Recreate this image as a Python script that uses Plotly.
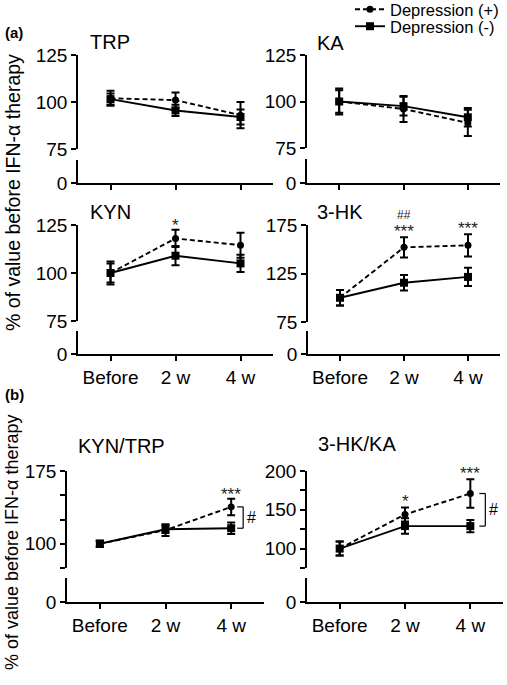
import plotly.graph_objects as go

# time points on every x axis
timepoints = ["Before", "2 w", "4 w"]

# panel (a) - means and error bars, depression (+) / depression (-)
trp_pos = [102, 101, 93]
trp_pos_err = [4, 4, 7]
trp_neg = [101.5, 95.5, 92]
trp_neg_err = [3, 3, 4]

ka_pos = [100, 96, 88.5]
ka_pos_err = [7, 7, 7]
ka_neg = [100, 97.5, 91.5]
ka_neg_err = [6, 5, 5]

kyn_pos = [100, 118, 114.5]
kyn_pos_err = [6, 4.5, 6.5]
kyn_neg = [100, 109, 105]
kyn_neg_err = [5, 5, 4.5]

hk_pos = [100, 152, 154]
hk_pos_err = [8, 10.5, 11.5]
hk_neg = [100, 115.5, 121.5]
hk_neg_err = [8, 8, 9.5]

# panel (b) - ratios
kyntrp_pos = [100, 114, 138]
kyntrp_pos_err = [3, 6, 8.5]
kyntrp_neg = [100, 115, 116]
kyntrp_neg_err = [3, 4, 6]

hkka_pos = [100, 144, 171]
hkka_pos_err = [9, 9, 18.5]
hkka_neg = [100, 129, 129]
hkka_neg_err = [9, 10, 8]

# significance marks above depression (+)
kyn_stars = ["", "*", ""]
hk_stars = ["", "***", "***"]
hk_hash = ["", "##", ""]
kyntrp_stars = ["", "", "***"]
hkka_stars = ["", "*", "***"]

W, H = 507, 685
FONT = "Liberation Sans, Arial, sans-serif"


def px_x(a, b):
    return [a / W, b / W]


def px_y(top, bottom):
    return [1 - bottom / H, 1 - top / H]


# name, data, layout geometry (pixels), y range, ticks
panels = [
    dict(title="TRP", pos=trp_pos, pos_err=trp_pos_err, neg=trp_neg, neg_err=trp_neg_err,
         x=(78, 273), up=(55, 149), low=(160, 183), yr=[75, 125],
         tv=[75, 100, 125], tt=["75", "100", "125"], xlab=False, tpos=(88, 42)),
    dict(title="KA", pos=ka_pos, pos_err=ka_pos_err, neg=ka_neg, neg_err=ka_neg_err,
         x=(307, 500), up=(55, 148), low=(159, 183), yr=[75, 125],
         tv=[75, 100, 125], tt=["75", "100", "125"], xlab=False, tpos=(315, 43)),
    dict(title="KYN", pos=kyn_pos, pos_err=kyn_pos_err, neg=kyn_neg, neg_err=kyn_neg_err,
         x=(78, 273), up=(225, 321), low=(331, 354), yr=[75, 125],
         tv=[75, 100, 125], tt=["75", "100", "125"], xlab=True, tpos=(88, 212)),
    dict(title="3-HK", pos=hk_pos, pos_err=hk_pos_err, neg=hk_neg, neg_err=hk_neg_err,
         x=(308, 500), up=(225, 322), low=(331, 354), yr=[75, 175],
         tv=[75, 125, 175], tt=["75", "125", "175"], xlab=True, tpos=(315, 212)),
    dict(title="KYN/TRP", pos=kyntrp_pos, pos_err=kyntrp_pos_err, neg=kyntrp_neg, neg_err=kyntrp_neg_err,
         x=(67, 264), up=(471, 568), low=(578, 602), yr=[75, 175],
         tv=[75, 100, 125, 150, 175], tt=["", "100", "", "", "175"], xlab=True, tpos=(76, 446)),
    dict(title="3-HK/KA", pos=hkka_pos, pos_err=hkka_pos_err, neg=hkka_neg, neg_err=hkka_neg_err,
         x=(307, 503), up=(471, 568), low=(578, 602), yr=[75, 200],
         tv=[75, 100, 125, 150, 175, 200], tt=["", "100", "", "150", "", "200"], xlab=True, tpos=(316, 444)),
]

fig = go.Figure()
layout = {}
annotations = []
shapes = []

axis_style = dict(showline=True, linecolor="black", linewidth=1.5, ticks="outside",
                  ticklen=5, tickwidth=1.5, tickcolor="black", showgrid=False,
                  zeroline=False, tickfont=dict(size=19, color="black", family=FONT))

for i, p in enumerate(panels):
    xn = i + 1
    ylow = 2 * i + 1
    yup = 2 * i + 2
    xref = "x" if xn == 1 else "x%d" % xn
    ylowref = "y" if ylow == 1 else "y%d" % ylow
    yupref = "y%d" % yup

    layout["xaxis" if xn == 1 else "xaxis%d" % xn] = dict(
        axis_style, domain=px_x(*p["x"]), anchor=ylowref, type="category",
        categoryorder="array", categoryarray=timepoints, range=[-0.5, 2.5],
        showticklabels=p["xlab"])
    layout["yaxis" if ylow == 1 else "yaxis%d" % ylow] = dict(
        axis_style, domain=px_y(*p["low"]), anchor=xref, range=[0, 10],
        tickvals=[0], ticktext=["0"])
    layout["yaxis%d" % yup] = dict(
        axis_style, domain=px_y(*p["up"]), anchor=xref, range=p["yr"],
        tickvals=p["tv"], ticktext=p["tt"])

    # empty trace so the lower (broken) segment subplot gets drawn
    fig.add_trace(go.Scatter(x=[], y=[], xaxis=xref, yaxis=ylowref, showlegend=False,
                             hoverinfo="skip"))

    fig.add_trace(go.Scatter(
        x=timepoints, y=p["pos"], xaxis=xref, yaxis=yupref,
        name="Depression (+)", legend="legend", showlegend=(i == 0),
        mode="lines+markers",
        line=dict(color="black", width=1.9, dash="5px,3px"),
        marker=dict(symbol="circle", size=7, color="black"),
        error_y=dict(type="data", array=p["pos_err"], color="black", thickness=2, width=4)))
    fig.add_trace(go.Scatter(
        x=timepoints, y=p["neg"], xaxis=xref, yaxis=yupref,
        name="Depression (-)", legend="legend2", showlegend=(i == 0),
        mode="lines+markers",
        line=dict(color="black", width=1.9),
        marker=dict(symbol="square", size=8, color="black"),
        error_y=dict(type="data", array=p["neg_err"], color="black", thickness=2, width=4)))

    tx, ty = p["tpos"]
    annotations.append(dict(text=p["title"], x=tx / W, y=1 - ty / H, xref="paper", yref="paper",
                            xanchor="left", yanchor="middle", showarrow=False,
                            font=dict(size=20, color="black", family=FONT)))

# significance stars and hashes, placed over the (+) error bars
sig_sets = [(2, kyn_stars, 7, 17), (3, hk_stars, 6, 17), (4, kyntrp_stars, 7, 17),
            (5, hkka_stars, 6, 17)]
for idx, stars, shift, size in sig_sets:
    p = panels[idx]
    for k, s in enumerate(stars):
        if s:
            annotations.append(dict(text=s, x=timepoints[k], y=p["pos"][k] + p["pos_err"][k],
                                    xref="x%d" % (idx + 1), yref="y%d" % (2 * idx + 2),
                                    yanchor="bottom", yshift=-shift, showarrow=False,
                                    font=dict(size=size, color="#222", family=FONT)))
for k, s in enumerate(hk_hash):
    if s:
        p = panels[3]
        annotations.append(dict(text=s, x=timepoints[k], y=p["pos"][k] + p["pos_err"][k],
                                xref="x4", yref="y8", yanchor="bottom", yshift=13,
                                showarrow=False, font=dict(size=12, color="#222", family=FONT)))

# brackets between groups at 4 w in panel (b)
for idx, off in [(4, 12), (5, 15)]:
    p = panels[idx]
    y_hi = p["pos"][2]
    y_lo = p["neg"][2]
    xr = "x%d" % (idx + 1)
    yr = "y%d" % (2 * idx + 2)
    common = dict(type="line", xref=xr, yref=yr, xsizemode="pixel", xanchor=2,
                  line=dict(color="black", width=1.2))
    shapes.append(dict(common, x0=off, x1=off, y0=y_lo, y1=y_hi))
    shapes.append(dict(common, x0=off - 6, x1=off, y0=y_hi, y1=y_hi))
    shapes.append(dict(common, x0=off - 6, x1=off, y0=y_lo, y1=y_lo))
    annotations.append(dict(text="#", x=2, y=(y_hi + y_lo) / 2, xref=xr, yref=yr,
                            xshift=off + 8, showarrow=False,
                            font=dict(size=16, color="black", family=FONT)))

# panel letters and y titles
annotations.append(dict(text="<b>(a)</b>", x=3 / W, y=1 - 32 / H, xref="paper", yref="paper",
                        xanchor="left", yanchor="middle", showarrow=False,
                        font=dict(size=15, color="black", family=FONT)))
annotations.append(dict(text="<b>(b)</b>", x=3 / W, y=1 - 394 / H, xref="paper", yref="paper",
                        xanchor="left", yanchor="middle", showarrow=False,
                        font=dict(size=15, color="black", family=FONT)))
annotations.append(dict(text="% of value before IFN-α therapy", x=13 / W, y=1 - 193 / H,
                        xref="paper", yref="paper", textangle=-90, showarrow=False,
                        xanchor="center", yanchor="middle",
                        font=dict(size=19.5, color="black", family=FONT)))
annotations.append(dict(text="% of value before IFN-α therapy", x=12 / W, y=1 - 542 / H,
                        xref="paper", yref="paper", textangle=-90, showarrow=False,
                        xanchor="center", yanchor="middle",
                        font=dict(size=18, color="black", family=FONT)))

legend_style = dict(xanchor="left", yanchor="top", bgcolor="rgba(0,0,0,0)",
                    font=dict(size=16.5, color="black", family=FONT), itemwidth=30)

fig.update_layout(
    layout,
    width=W, height=H,
    margin=dict(l=0, r=0, t=0, b=0, autoexpand=False),
    paper_bgcolor="white", plot_bgcolor="white",
    font=dict(family=FONT, color="black"),
    annotations=annotations, shapes=shapes,
    legend=dict(legend_style, x=350 / W, y=1 + 8 / H),
    legend2=dict(legend_style, x=350 / W, y=1 - 9 / H),
)

# drop the browser's default page margin so the figure sits at the window corner
fig.write_html("out.html", config={"displayModeBar": False},
               post_script="document.body.style.margin='0';")
